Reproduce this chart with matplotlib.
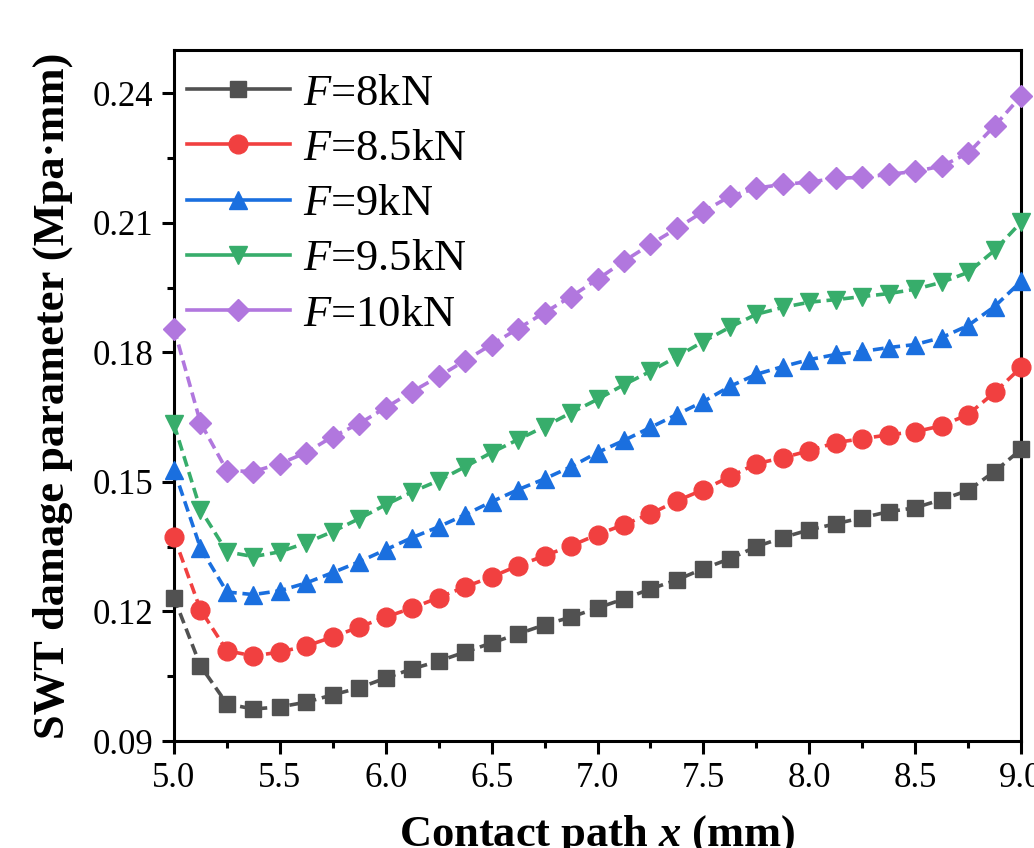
import numpy as np
import matplotlib
matplotlib.use("Agg")
import matplotlib.pyplot as plt
from matplotlib.ticker import MultipleLocator, FormatStrFormatter

plt.rcParams['font.family'] = ['Liberation Serif', 'DejaVu Serif']
plt.rcParams['mathtext.fontset'] = 'custom'
plt.rcParams['mathtext.rm'] = 'Liberation Serif'
plt.rcParams['mathtext.it'] = 'Liberation Serif:italic'
plt.rcParams['mathtext.bf'] = 'Liberation Serif:bold'
plt.rcParams['mathtext.bfit'] = 'Liberation Serif:italic:bold'

x = [5.0 + 0.125 * i for i in range(33)]

f8 = [0.1232, 0.1074, 0.0986, 0.0974, 0.0979, 0.0990, 0.1007, 0.1023, 0.1046, 0.1067,
      0.1085, 0.1106, 0.1127, 0.1148, 0.1169, 0.1187, 0.1208, 0.1229, 0.1252, 0.1273,
      0.1299, 0.1322, 0.1350, 0.1371, 0.1389, 0.1403, 0.1417, 0.1431, 0.1440, 0.1459,
      0.1480, 0.1524, 0.1575]
f85 = [0.1373, 0.1204, 0.1109, 0.1097, 0.1106, 0.1120, 0.1141, 0.1164, 0.1187, 0.1208,
       0.1232, 0.1257, 0.1280, 0.1306, 0.1329, 0.1352, 0.1378, 0.1401, 0.1426, 0.1456,
       0.1482, 0.1512, 0.1542, 0.1556, 0.1572, 0.1591, 0.1600, 0.1609, 0.1616, 0.1630,
       0.1656, 0.1707, 0.1765]
f9 = [0.1528, 0.1347, 0.1245, 0.1239, 0.1248, 0.1266, 0.1290, 0.1315, 0.1343, 0.1371,
      0.1396, 0.1424, 0.1454, 0.1482, 0.1507, 0.1535, 0.1568, 0.1596, 0.1626, 0.1656,
      0.1686, 0.1721, 0.1749, 0.1767, 0.1783, 0.1795, 0.1802, 0.1811, 0.1818, 0.1834,
      0.1862, 0.1906, 0.1964]
f95 = [0.1633, 0.1436, 0.1338, 0.1327, 0.1338, 0.1359, 0.1385, 0.1415, 0.1447, 0.1477,
       0.1503, 0.1535, 0.1568, 0.1598, 0.1628, 0.1660, 0.1691, 0.1725, 0.1756, 0.1790,
       0.1825, 0.1858, 0.1888, 0.1904, 0.1916, 0.1922, 0.1929, 0.1936, 0.1946, 0.1962,
       0.1985, 0.2036, 0.2101]
f10 = [0.1855, 0.1637, 0.1526, 0.1524, 0.1542, 0.1568, 0.1605, 0.1635, 0.1672, 0.1709,
       0.1744, 0.1781, 0.1818, 0.1855, 0.1892, 0.1929, 0.1969, 0.2011, 0.2050, 0.2087,
       0.2126, 0.2161, 0.2180, 0.2189, 0.2194, 0.2203, 0.2205, 0.2212, 0.2219, 0.2231,
       0.2261, 0.2324, 0.2393]

labels = ['$F$=8kN', '$F$=8.5kN', '$F$=9kN', '$F$=9.5kN', '$F$=10kN']
series = [f8, f85, f9, f95, f10]
colors = ['#515151', '#F14040', '#1A6FDF', '#37AD6B', '#B177DE']
markers = ['s', 'o', '^', 'v', 'D']
msizes = [11.5, 13.5, 13.5, 13.5, 11.5]

fig = plt.figure(figsize=(10.34, 8.48), dpi=100)
ax = fig.add_axes([174/1034, 107/848, (1021-174)/1034, (741-50)/848])

for ys, c, m, ms, lab in zip(series, colors, markers, msizes, labels):
    ax.plot(x, ys, color=c, marker=m, markersize=ms, linewidth=2.6,
            linestyle=(0, (3.0, 1.6)), label=lab, clip_on=False, zorder=3)

ax.set_xlim(5.0, 9.0)
ax.set_ylim(0.09, 0.25)
ax.xaxis.set_major_locator(MultipleLocator(0.5))
ax.xaxis.set_minor_locator(MultipleLocator(0.25))
ax.yaxis.set_major_locator(MultipleLocator(0.03))
ax.yaxis.set_minor_locator(MultipleLocator(0.015))
ax.xaxis.set_major_formatter(FormatStrFormatter('%.1f'))
ax.yaxis.set_major_formatter(FormatStrFormatter('%.2f'))

ax.tick_params(which='both', direction='out', width=2.2, top=False, right=False)
ax.tick_params(which='major', length=9, labelsize=25, pad=6)
ax.tick_params(which='minor', length=5)
for s in ax.spines.values():
    s.set_linewidth(2.2)

ax.set_xlabel('Contact path $\\mathbfit{x}$ (mm)', fontsize=32, fontweight='bold', labelpad=13)
ax.set_ylabel('SWT damage parameter (Mpa·mm)', fontsize=32, fontweight='bold', labelpad=14)

leg = ax.legend(loc='upper left', frameon=False, fontsize=32, handlelength=2.3,
                handletextpad=0.3, labelspacing=0.34, borderaxespad=0.1,
                borderpad=0.2, bbox_to_anchor=(0.0, 0.985))
for ln in leg.get_lines():
    ln.set_linestyle('-')

fig.savefig('out.png', dpi=100)
